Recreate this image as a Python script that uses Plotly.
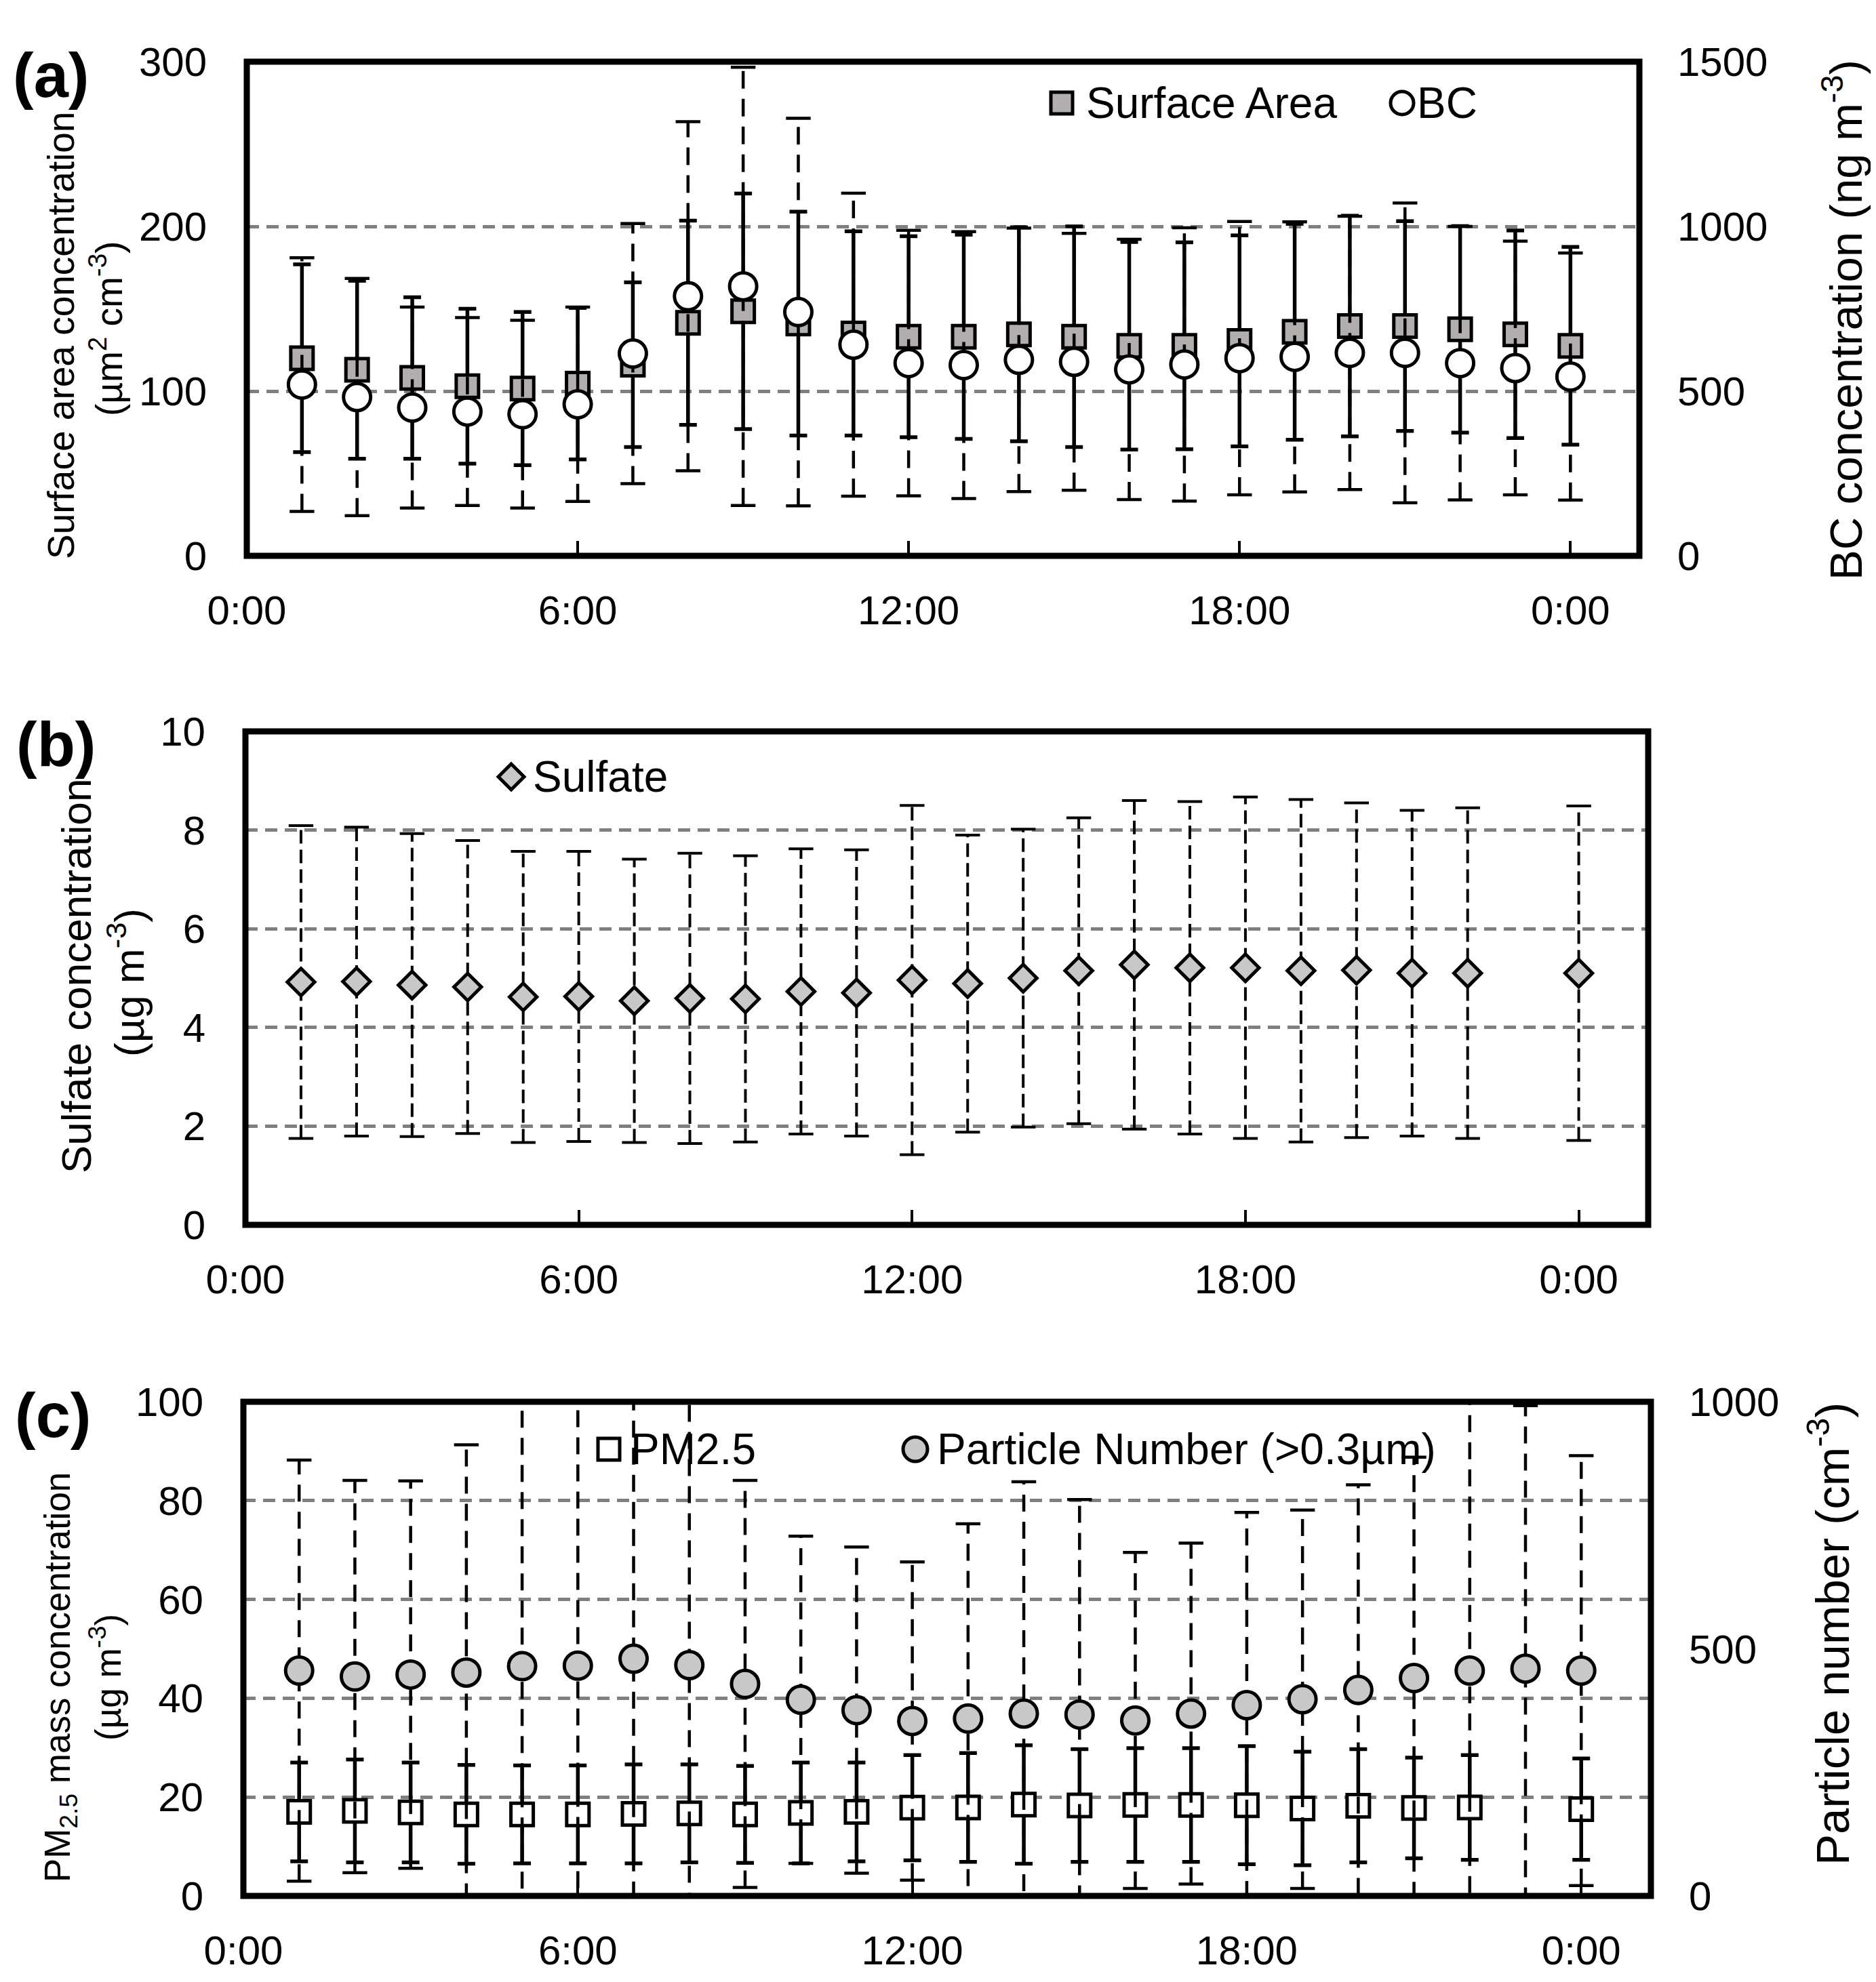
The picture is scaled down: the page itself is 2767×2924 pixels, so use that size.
import plotly.graph_objects as go

W, H = 2767, 2924
FONT = "Liberation Sans, Arial, sans-serif"
OFF = 8  # page body margin that the browser adds around the figure

# ---- (a) surface area (left axis) and BC (right axis), hourly means +/- sd
hours_a = [1, 2, 3, 4, 5, 6, 7, 8, 9, 10, 11, 12,
           13, 14, 15, 16, 17, 18, 19, 20, 21, 22, 23, 24]
sa_mean = [120, 113, 108, 103, 101.5, 104.5, 116, 141.5, 148.5, 141, 135, 133,
           133, 134.5, 133, 127.5, 127.5, 130.5, 136, 139.5, 139.5, 137.5, 134.5, 127.5]
sa_err = [57, 54, 49, 47, 46.5, 46, 50, 62, 71.5, 68, 62, 61,
          62, 65, 67, 63, 62.8, 64, 65.5, 67, 63.7, 62.7, 63, 60]
bc_mean = [520, 482, 450, 438, 430, 460, 614, 788, 818, 740, 641, 585,
           579, 595, 589, 566, 581, 600, 604, 616, 616, 585, 570, 544]
bc_err = [385, 360, 305, 285, 285, 295, 395, 530, 665, 588, 460, 403,
          405, 400, 390, 395, 415, 415, 410, 415, 455, 415, 385, 375]

# ---- (b) sulfate (no value at 23:00)
hours_b = [1, 2, 3, 4, 5, 6, 7, 8, 9, 10, 11, 12,
           13, 14, 15, 16, 17, 18, 19, 20, 21, 22, 24]
so4_mean = [4.92, 4.93, 4.86, 4.82, 4.62, 4.63, 4.54, 4.59, 4.58, 4.73, 4.70, 4.96,
            4.89, 5.00, 5.15, 5.27, 5.21, 5.21, 5.15, 5.16, 5.10, 5.10, 5.10]
so4_err = [3.17, 3.13, 3.07, 2.97, 2.95, 2.94, 2.87, 2.94, 2.90, 2.89, 2.90, 3.54,
           3.01, 3.02, 3.10, 3.33, 3.37, 3.46, 3.47, 3.39, 3.30, 3.35, 3.39]

# ---- (c) PM2.5 (left axis, no value at 23:00) and particle number (right axis)
hours_pm = [1, 2, 3, 4, 5, 6, 7, 8, 9, 10, 11, 12,
            13, 14, 15, 16, 17, 18, 19, 20, 21, 22, 24]
pm_mean = [17, 17.2, 16.9, 16.5, 16.5, 16.5, 16.6, 16.7, 16.5, 16.8, 17, 17.85,
           17.9, 18.5, 18.3, 18.4, 18.4, 18.35, 17.7, 18.25, 17.8, 17.9, 17.55]
pm_err = [10, 10.4, 10.1, 10, 9.9, 9.9, 10, 9.9, 9.8, 10.2, 10, 10.65,
          11, 12, 11.4, 11.5, 11.5, 11.95, 11.5, 11.45, 10.2, 10.6, 10.25]
hours_pn = [1, 2, 3, 4, 5, 6, 7, 8, 9, 10, 11, 12,
            13, 14, 15, 16, 17, 18, 19, 20, 21, 22, 23, 24]
pn_mean = [456, 444, 448, 452, 465, 466, 480, 467, 429, 397, 376, 354,
           359, 369, 367, 355, 369, 386, 398, 417, 441, 456, 460, 456]
pn_err = [426, 397, 392, 461, 560, 560, 540, 550, 412, 331, 330, 322,
          394, 469, 435, 340, 345, 390, 383, 415, 447, 560, 532, 435]

tick_vals = [0, 6, 12, 18, 24]
tick_text = ["0:00", "6:00", "12:00", "18:00", "0:00"]


def whiskers(xs, means, errs):
    x, y = [], []
    for h, m, e in zip(xs, means, errs):
        x += [h, h, None]
        y += [m - e, m + e, None]
    return x, y


def caps(xs, means, errs):
    return xs + xs, [m - e for m, e in zip(means, errs)] + [m + e for m, e in zip(means, errs)]


def dashed_bars(fig, xs, means, errs, xa, ya, dash, lw):
    wx, wy = whiskers(xs, means, errs)
    fig.add_trace(go.Scatter(x=wx, y=wy, mode="lines", xaxis=xa, yaxis=ya,
                             line=dict(color="black", width=lw, dash=dash),
                             showlegend=False, hoverinfo="skip"))
    cx, cy = caps(xs, means, errs)
    fig.add_trace(go.Scatter(x=cx, y=cy, mode="markers", xaxis=xa, yaxis=ya,
                             marker=dict(symbol="line-ew", size=26,
                                         line=dict(color="black", width=lw)),
                             showlegend=False, hoverinfo="skip"))


solid_err = dict(color="black", thickness=5.5, width=13)

fig = go.Figure()

# (a)
fig.add_trace(go.Scatter(x=hours_a, y=sa_mean, mode="markers", xaxis="x", yaxis="y",
                         error_y=dict(type="data", array=sa_err, **solid_err),
                         marker=dict(symbol="square", size=33, color="#b2aeae",
                                     line=dict(color="black", width=5)),
                         name="Surface Area", showlegend=False))
dashed_bars(fig, hours_a, bc_mean, bc_err, "x", "y2", "26px,15px", 4.5)
fig.add_trace(go.Scatter(x=hours_a, y=bc_mean, mode="markers", xaxis="x", yaxis="y2",
                         marker=dict(symbol="circle", size=40, color="white",
                                     line=dict(color="black", width=5)),
                         name="BC", showlegend=False))

# (b)
dashed_bars(fig, hours_b, so4_mean, so4_err, "x2", "y3", "20px,9px", 4)
fig.add_trace(go.Scatter(x=hours_b, y=so4_mean, mode="markers", xaxis="x2", yaxis="y3",
                         marker=dict(symbol="diamond", size=31, color="#c8c8c8",
                                     line=dict(color="black", width=5)),
                         name="Sulfate", showlegend=False))

# (c)
fig.add_trace(go.Scatter(x=hours_pm, y=pm_mean, mode="markers", xaxis="x3", yaxis="y4",
                         error_y=dict(type="data", array=pm_err, **solid_err),
                         marker=dict(symbol="square", size=33, color="white",
                                     line=dict(color="black", width=5)),
                         name="PM2.5", showlegend=False))
dashed_bars(fig, hours_pn, pn_mean, pn_err, "x3", "y5", "25px,15px", 4.5)
fig.add_trace(go.Scatter(x=hours_pn, y=pn_mean, mode="markers", xaxis="x3", yaxis="y5",
                         marker=dict(symbol="circle", size=40, color="#c8c8c8",
                                     line=dict(color="black", width=5)),
                         name="Particle Number (>0.3µm)", showlegend=False))


def px(x):
    return (x - OFF) / W


def py(y):
    return 1 - (y - OFF) / H


def dom_x(l, r):
    return [px(l), px(r)]


def dom_y(t, b):
    return [py(b), py(t)]


XD = {"a": dom_x(364, 2418), "b": dom_x(362, 2431), "c": dom_x(359, 2435)}
YD = {"a": dom_y(91, 820), "b": dom_y(1079, 1807), "c": dom_y(2068, 2797)}

tickfont = dict(family=FONT, size=60, color="black")


def xax(domain, anchor):
    return dict(domain=domain, anchor=anchor, range=[0, 25.25], tickvals=tick_vals,
                ticktext=tick_text, ticks="inside", ticklen=22, tickwidth=4,
                tickcolor="black", showgrid=False, zeroline=False, showline=False,
                tickfont=tickfont, ticklabelstandoff=40, automargin=False)


def yax(domain, anchor, rng, dtick, grid=True, side="left", overlay=None):
    d = dict(domain=domain, anchor=anchor, range=rng, dtick=dtick, tick0=0,
             showgrid=grid, gridcolor="#7f7f7f", gridwidth=4.5, griddash="18px,11px",
             zeroline=False, showline=False, ticks="", side=side, tickfont=tickfont,
             ticklabelstandoff=58 if side == "left" else 55, automargin=False)
    if overlay:
        d["overlaying"] = overlay
    return d


fig.update_layout(
    template="none",
    width=W, height=H, margin=dict(l=0, r=0, t=0, b=0, pad=0), autosize=False,
    paper_bgcolor="white", plot_bgcolor="white", showlegend=False,
    font=dict(family=FONT, color="black"),
    xaxis=xax(XD["a"], "y"),
    yaxis=yax(YD["a"], "x", [0, 300], 100),
    yaxis2=yax(YD["a"], "x", [0, 1500], 500, grid=False, side="right", overlay="y"),
    xaxis2=xax(XD["b"], "y3"),
    yaxis3=yax(YD["b"], "x2", [0, 10], 2),
    xaxis3=xax(XD["c"], "y4"),
    yaxis4=yax(YD["c"], "x3", [0, 100], 20),
    yaxis5=yax(YD["c"], "x3", [0, 1000], 500, grid=False, side="right", overlay="y4"),
)

# plot frames
shapes = []
for xa, ya in [("x", "y"), ("x2", "y3"), ("x3", "y4")]:
    shapes.append(dict(type="rect", xref=xa + " domain", yref=ya + " domain",
                       x0=0, x1=1, y0=0, y1=1, layer="above",
                       line=dict(color="black", width=9)))


# legend keys (layout decorations, pixel sized)
def key(kind, cx, cy, fill, half=18):
    base = dict(xref="paper", yref="paper", xsizemode="pixel", ysizemode="pixel",
                xanchor=px(cx), yanchor=py(cy), fillcolor=fill,
                line=dict(color="black", width=5), layer="above")
    if kind == "diamond":
        base.update(type="path",
                    path=f"M 0 {-half} L {half} 0 L 0 {half} L {-half} 0 Z")
    else:
        base.update(type="rect" if kind == "square" else "circle",
                    x0=-half, x1=half, y0=-half, y1=half)
    return base


shapes += [
    key("square", 1566, 152, "#b2aeae", 16),
    key("circle", 2068, 152, "white", 17),
    key("diamond", 754, 1146, "#c8c8c8", 19),
    key("square", 898, 2138, "white", 16),
    key("circle", 1350, 2138, "#c8c8c8", 18),
]
fig.update_layout(shapes=shapes)


def ann(text, x, y, size, angle=0, xanchor="center", bold=False):
    return dict(text=f"<b>{text}</b>" if bold else text, x=px(x), y=py(y),
                xref="paper", yref="paper", showarrow=False, textangle=angle,
                xanchor=xanchor, yanchor="middle",
                font=dict(family=FONT, size=size, color="black"))


annotations = [
    ann("(a)", 75, 111, 92, bold=True),
    ann("(b)", 82, 1098, 92, bold=True),
    ann("(c)", 78, 2088, 92, bold=True),
    # axis titles
    ann("Surface area concentration", 90, 495, 55, angle=-90),
    ann("(µm<sup>2</sup> cm<sup>-3</sup>)", 157, 485, 55, angle=-90),
    ann("BC concentration (ng m<sup>-3</sup>)", 2718, 472, 67, angle=-90),
    ann("Sulfate concentration", 112, 1440, 62, angle=-90),
    ann("(µg m<sup>-3</sup>)", 186, 1450, 62, angle=-90),
    ann("PM<sub>2.5</sub> mass concentration", 88, 2475, 53, angle=-90),
    ann("(µg m<sup>-3</sup>)", 155, 2475, 53, angle=-90),
    ann("Particle number (cm<sup>-3</sup>)", 2698, 2411, 69, angle=-90),
    # legend texts
    ann("Surface Area", 1600, 152, 64, xanchor="left"),
    ann("BC", 2088, 152, 64, xanchor="left"),
    ann("Sulfate", 784, 1146, 64, xanchor="left"),
    ann("PM2.5", 928, 2138, 64, xanchor="left"),
    ann("Particle Number (>0.3µm)", 1380, 2138, 64, xanchor="left"),
]
fig.update_layout(annotations=annotations)

fig.write_html("out.html")
